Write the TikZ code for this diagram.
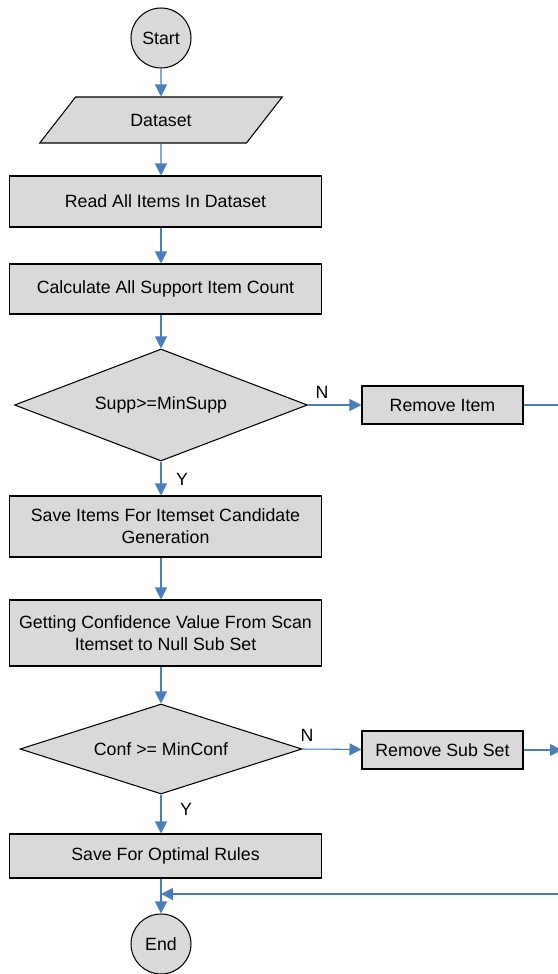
\documentclass[tikz,border=0pt]{standalone}
\usepackage{fontspec}
\setmainfont{Liberation Sans}
\usetikzlibrary{arrows.meta, positioning, shapes.geometric}

\definecolor{boxgray}{HTML}{D9D9D9}
\definecolor{flowblue}{HTML}{4A7EBB}

\begin{document}
\begin{tikzpicture}[x=0.02cm, y=-0.02cm,
    every node/.append style={font=\fontsize{10.1}{12.5}\selectfont},
    term/.style={circle, draw, fill=boxgray, minimum size=1.2cm, inner sep=0pt, line width=0.6pt},
    iobox/.style={trapezium, trapezium left angle=44, trapezium right angle=136, trapezium stretches=true,
                  draw, fill=boxgray, minimum width=4.86cm, minimum height=0.92cm, inner sep=0pt, line width=0.6pt},
    proc/.style={rectangle, draw, fill=boxgray, minimum width=6.26cm, align=center, inner sep=0pt, line width=0.6pt},
    smallproc/.style={rectangle, draw, fill=boxgray, minimum width=3.22cm, minimum height=0.76cm, inner sep=0pt, line width=0.6pt},
    decision/.style={diamond, draw, fill=boxgray, inner sep=0pt, line width=0.6pt},
    flow/.style={-{Triangle[length=2.4mm, width=2.4mm]}, draw=flowblue, fill=flowblue, line width=0.6pt},
    flowline/.style={draw=flowblue, line width=0.6pt}]

  \useasboundingbox (0,0) rectangle (558,974);
  \clip (0,0) rectangle (558,974);

  % main column
  \node[term] (start) at (161,38) {Start};
  \node[iobox] (data) at (161,120) {Dataset};
  \node[proc, minimum height=1.02cm] (read) at (165.5,201.5) {Read All Items In Dataset};
  \node[proc, minimum height=1.0cm] (calc) at (165.5,289) {Calculate All Support Item Count};
  \node[decision, minimum width=5.86cm, minimum height=2.24cm, aspect=2.6] (supp) at (161,405) {Supp>=MinSupp};
  \node[proc, minimum height=1.22cm] (saveit) at (165.5,526.5) {Save Items For Itemset Candidate\\Generation};
  \node[proc, minimum height=1.32cm] (getconf) at (165.5,633) {Getting Confidence Value From Scan\\Itemset to Null Sub Set};
  \node[decision, minimum width=5.64cm, minimum height=1.8cm, aspect=3.13] (conf) at (161,749) {Conf >= MinConf};
  \node[proc, minimum height=0.88cm] (opt) at (165.5,856) {Save For Optimal Rules};
  \node[term] (finish) at (161,944) {End};

  % side branches
  \node[smallproc] (rmitem) at (442.5,405) {Remove Item};
  \node[smallproc] (rmsub) at (442.5,750) {Remove Sub Set};
  \coordinate (out1) at (562,405);
  \coordinate (out2) at (562,750);
  \coordinate (in1) at (562,894);

  % labels
  \node (n1) at (322,392) {N};
  \node (y1) at (182,479) {Y};
  \node (n2) at (307,735) {N};
  \node (y2) at (186,809) {Y};

  \draw[flow] (start) -- (data);
  \draw[flow] (data) -- (data |- read.north);
  \draw[flow] (read.south -| data) -- (data |- calc.north);
  \draw[flow] (calc.south -| data) -- (supp);
  \draw[flow] (supp) -- (supp |- saveit.north);
  \draw[flow] (saveit.south -| conf) -- (conf |- getconf.north);
  \draw[flow] (getconf.south -| conf) -- (conf);
  \draw[flow] (conf) -- (conf |- opt.north);
  \draw[flow] (opt.south -| conf) -- (finish);

  \draw[flow] (supp) -- (rmitem);
  \draw[flowline] (rmitem) -- (out1);
  \draw[flow] (conf.east) -- (rmsub);
  \draw[flow] (rmsub) -- (out2);
  \draw[flow] (in1) -- (in1 -| finish);
\end{tikzpicture}
\end{document}
